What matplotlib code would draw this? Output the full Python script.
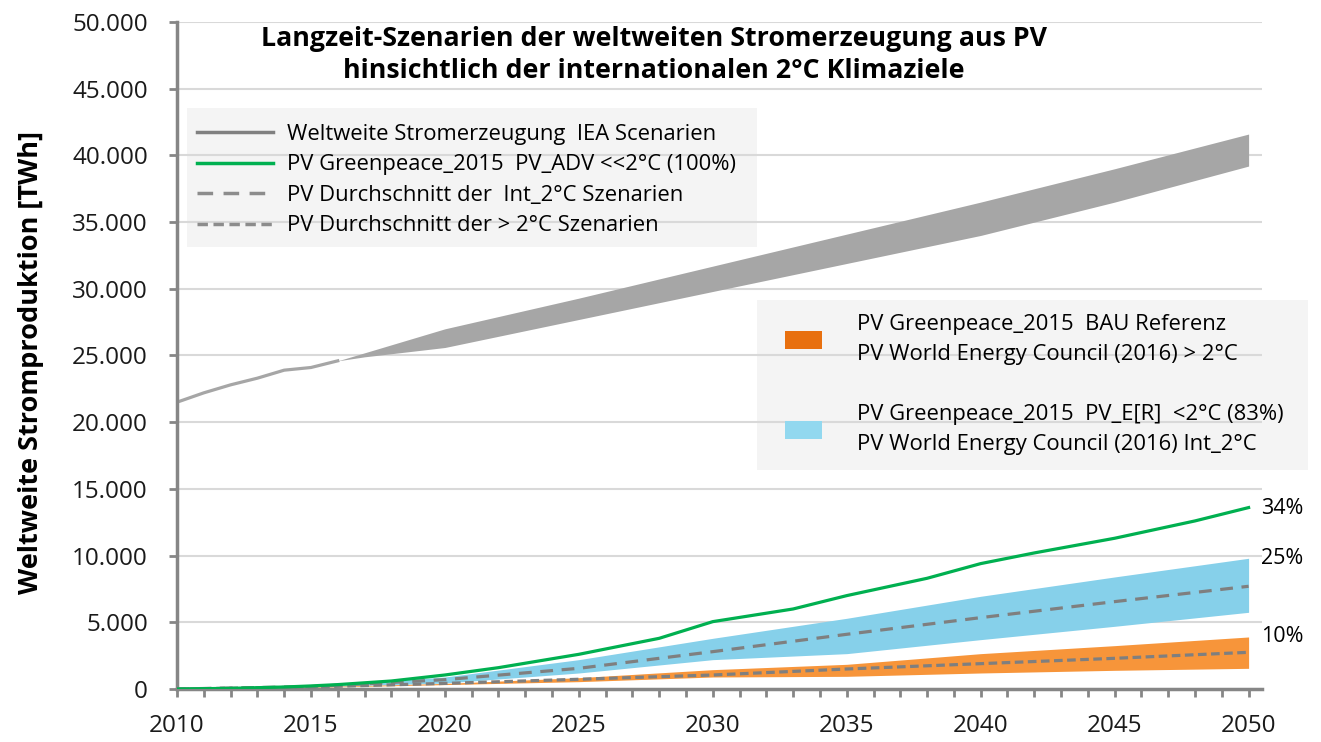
import matplotlib.pyplot as plt
from matplotlib.lines import Line2D
from matplotlib.patches import Patch, Rectangle

plt.rcParams['font.family'] = ['Open Sans', 'DejaVu Sans']

# IEA: common history, then a band of scenarios
iea_years = [2010, 2011, 2012, 2013, 2014, 2015, 2016]
iea_hist = [21500, 22200, 22800, 23300, 23900, 24100, 24600]
band_years = [2016, 2017, 2020, 2025, 2030, 2035, 2040, 2045, 2050]
iea_low = [24600, 24900, 25600, 27700, 29800, 31900, 34000, 36500, 39200]
iea_high = [24600, 25200, 27000, 29300, 31700, 34100, 36500, 39000, 41600]

# Greenpeace PV_ADV
gp_years = [2010, 2012, 2014, 2015, 2016, 2018, 2020, 2022, 2025, 2028,
            2030, 2033, 2035, 2038, 2040, 2042, 2045, 2048, 2050]
gp_adv = [0, 50, 150, 230, 330, 600, 1050, 1600, 2600, 3800,
          5050, 6000, 7000, 8300, 9400, 10200, 11300, 12600, 13600]

# scenario ranges
sc_years = [2010, 2015, 2020, 2025, 2030, 2035, 2040, 2045, 2050]
int2_low = [0, 150, 450, 1200, 2200, 2650, 3700, 4700, 5750]
int2_high = [0, 200, 900, 2200, 3800, 5300, 6950, 8400, 9800]
int2_mean = [0, 180, 700, 1550, 2800, 4100, 5350, 6550, 7700]
gt2_low = [0, 120, 330, 550, 900, 950, 1200, 1400, 1550]
gt2_high = [0, 160, 420, 850, 1450, 1850, 2650, 3250, 3900]
gt2_mean = [0, 150, 420, 730, 1050, 1500, 1900, 2300, 2750]

share_labels = ['34%', '25%', '10%']
share_y = [13550, 9800, 3900]

W, H = 1321, 742
fig = plt.figure(figsize=(W / 100, H / 100), dpi=100)
ax = fig.add_axes([177 / W, 1 - 689 / H, (1262 - 177) / W, (689 - 22) / H])

ax.fill_between(band_years, iea_low, iea_high, color='#a6a6a6', lw=0, zorder=2)
ax.plot(iea_years, iea_hist, color='#a6a6a6', lw=2.3, zorder=2)
ax.fill_between(sc_years, int2_low, int2_high, color='#86d0ea', lw=0, zorder=2)
ax.fill_between(sc_years, gt2_low, gt2_high, color='#f7953a', lw=0, zorder=2)
ax.plot(sc_years, int2_mean, color='#7f7f7f', lw=2.3, dashes=(4, 2.7), zorder=3)
ax.plot(sc_years, gt2_mean, color='#7f7f7f', lw=2.3, dashes=(2.7, 1.4), zorder=3)
ax.plot(gp_years, gp_adv, color='#00b050', lw=2.3, zorder=4)

for lab, yv in zip(share_labels, share_y):
    ax.text(2050.45, yv, lab, fontsize=15.5, va='center', ha='left', clip_on=False)

ax.set_xlim(2010, 2050.5)
ax.set_ylim(0, 50000)
ax.set_xticks(range(2010, 2051))
ax.set_xticklabels([str(y) if y % 5 == 0 else '' for y in range(2010, 2051)])
ax.set_yticks(range(0, 50001, 5000))
ax.set_yticklabels([f'{v:,}'.replace(',', '.') for v in range(0, 50001, 5000)])
ax.tick_params(axis='both', colors='#868686', width=2, length=6, labelsize=17.5,
               labelcolor='#1a1a1a')
ax.tick_params(axis='x', pad=12)
ax.tick_params(axis='y', pad=15)
ax.yaxis.grid(True, color='#d9d9d9', lw=1.5)
ax.set_axisbelow(True)
for s in ['top', 'right']:
    ax.spines[s].set_visible(False)
for s in ['left', 'bottom']:
    ax.spines[s].set_color('#868686')
    ax.spines[s].set_linewidth(2.5)
ax.set_ylabel('Weltweite Stromproduktion [TWh]', fontsize=19.5, fontweight='bold')
ax.yaxis.set_label_coords((44 - 177) / (1262 - 177), 0.49)

fig.text(654 / W, 1 - 55 / H,
         'Langzeit-Szenarien der weltweiten Stromerzeugung aus PV\n'
         'hinsichtlich der internationalen 2°C Klimaziele',
         ha='center', va='center', fontsize=19.3, fontweight='bold', linespacing=1.35)

# legend boxes
for x0, y0, x1, y1 in [(187, 108, 757, 247), (757, 300, 1308, 470)]:
    ax.add_patch(Rectangle((x0 / W, 1 - y1 / H), (x1 - x0) / W, (y1 - y0) / H,
                           transform=fig.transFigure, facecolor='#f4f4f4',
                           edgecolor='none', zorder=0.2, clip_on=False))

h1 = [Line2D([], [], color='#808080', lw=2.5),
      Line2D([], [], color='#00b050', lw=2.5),
      Line2D([], [], color='#8c8c8c', lw=2.5, dashes=(4.5, 3)),
      Line2D([], [], color='#8c8c8c', lw=2.5, dashes=(3, 1.6))]
l1 = ['Weltweite Stromerzeugung  IEA Scenarien',
      'PV Greenpeace_2015  PV_ADV <<2°C (100%)',
      'PV Durchschnitt der  Int_2°C Szenarien',
      'PV Durchschnitt der > 2°C Szenarien']
leg1 = ax.legend(h1, l1, loc='upper left', bbox_to_anchor=(197 / W, 1 - 124 / H),
                 bbox_transform=fig.transFigure, frameon=False, fontsize=15.8,
                 borderpad=0, borderaxespad=0, handlelength=3.47,
                 handletextpad=0.64, labelspacing=0.43)
ax.add_artist(leg1)

h2 = [Patch(facecolor='#e8700f', edgecolor='none'),
      Patch(facecolor='#92d8ef', edgecolor='none')]
l2 = ['PV Greenpeace_2015  BAU Referenz\nPV World Energy Council (2016) > 2°C',
      'PV Greenpeace_2015  PV_E[R]  <2°C (83%)\nPV World Energy Council (2016) Int_2°C']
leg2 = ax.legend(h2, l2, loc='upper left', bbox_to_anchor=(785 / W, 1 - 314 / H),
                 bbox_transform=fig.transFigure, frameon=False, fontsize=15.8,
                 borderpad=0, borderaxespad=0, handlelength=1.69, handleheight=0.91,
                 handletextpad=1.6, labelspacing=1.75)
for t in leg2.get_texts():
    t.set_linespacing(1.58)

fig.savefig('out.png', dpi=100)
